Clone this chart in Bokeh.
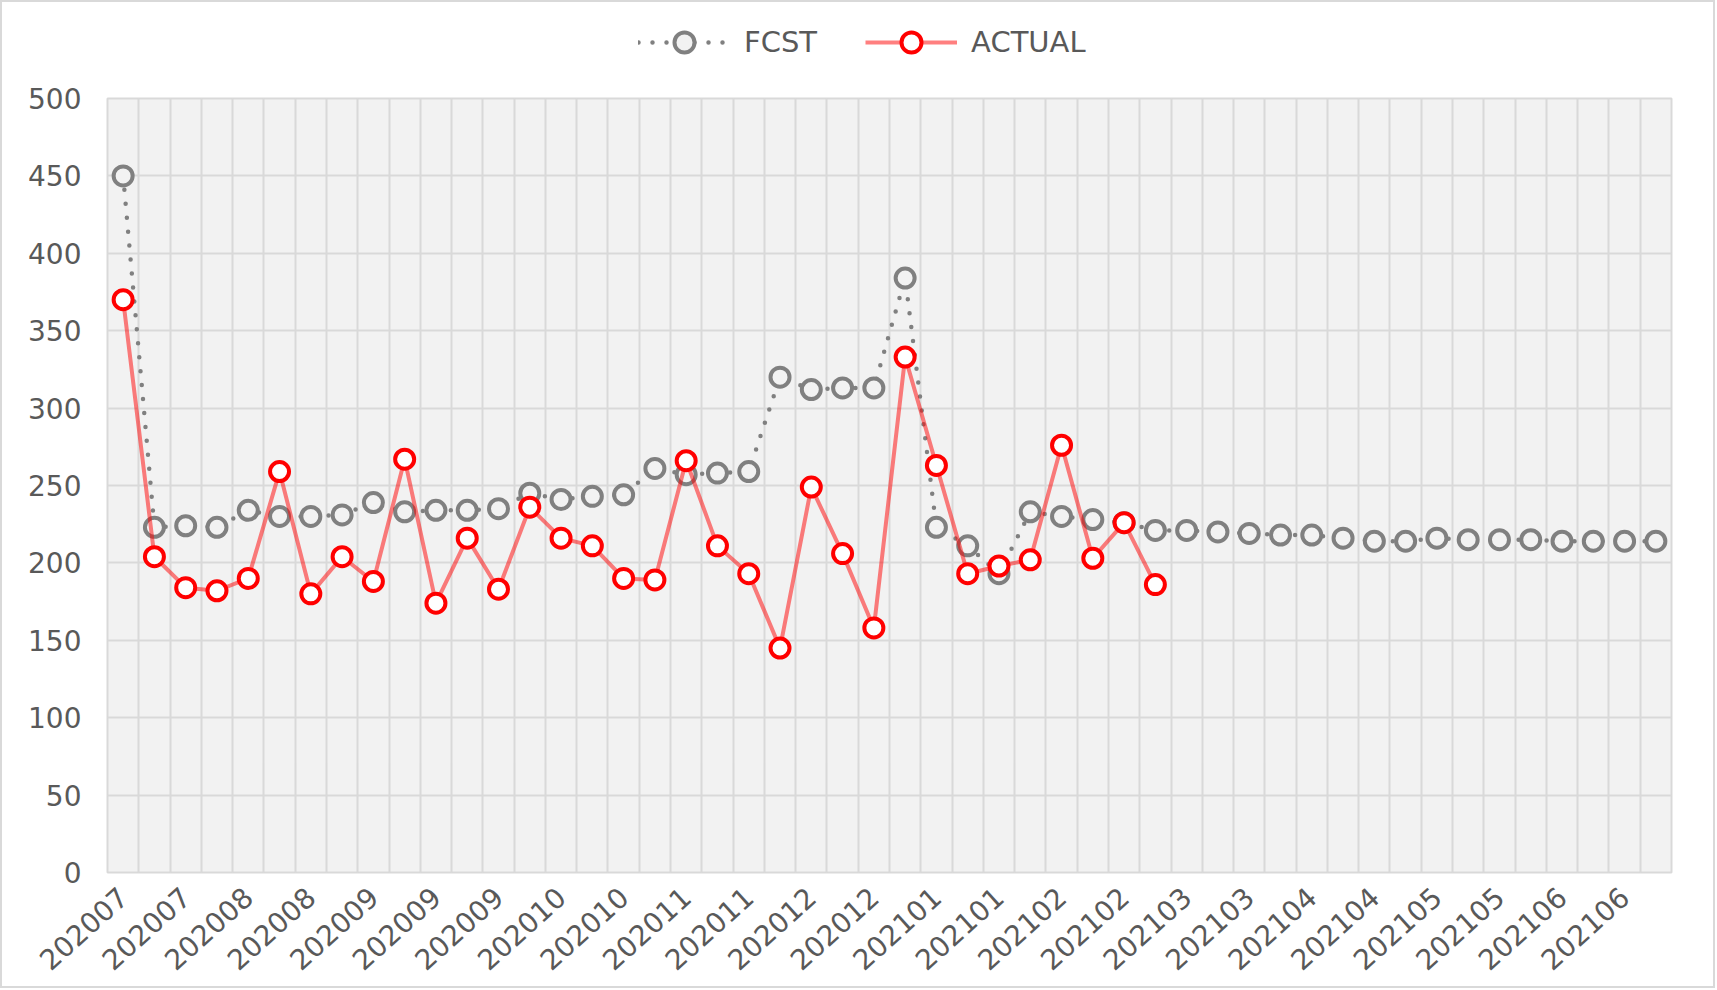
import math
from bokeh.plotting import figure
from bokeh.layouts import column
from bokeh.models import Range1d, FixedTicker, Grid, Legend, LegendItem
from bokeh.embed import file_html
from bokeh.resources import INLINE

# ---- data ----
week_index = list(range(50))
tick_labels = ["202007", "202007", "202008", "202008", "202009", "202009", "202009",
               "202010", "202010", "202011", "202011", "202012", "202012", "202101",
               "202101", "202102", "202102", "202103", "202103", "202104", "202104",
               "202105", "202105", "202106", "202106"]
fcst = [450, 223, 224, 223, 234, 230, 230, 231, 239, 233,
        234, 234, 235, 245, 241, 243, 244, 261, 257, 258,
        259, 320, 312, 313, 313, 384, 223, 211, 193, 233,
        230, 228, 226, 221, 221, 220, 219, 218, 218, 216,
        214, 214, 216, 215, 215, 215, 214, 214, 214, 214]
actual = [370, 204, 184, 182, 190, 259, 180, 204, 188, 267,
          174, 216, 183, 236, 216, 211, 190, 189, 266, 211,
          193, 145, 249, 206, 158, 333, 263, 193, 198, 202,
          276, 203, 226, 186]
y_ticks = [0, 50, 100, 150, 200, 250, 300, 350, 400, 450, 500]

TEXT = "#595959"
GRID = "#D9D9D9"
FONT = "DejaVu Sans"

fcst_line = dict(line_color="#808080", line_width=4.5, line_dash="0 14", line_cap="round")
fcst_mark = dict(marker="circle", size=19, line_color="#808080", line_width=4, fill_color="#F2F2F2")
act_line = dict(line_color="#FF0000", line_alpha=0.5, line_width=4)
act_mark = dict(marker="circle", size=19, line_color="#FF0000", line_width=4, fill_color="white")

# ---- main chart ----
p = figure(width=1711, height=904, output_backend="svg", toolbar_location=None,
           x_range=Range1d(-0.5, len(week_index) - 0.5), y_range=Range1d(0, 500),
           min_border_left=105, min_border_top=16, min_border_right=42, min_border_bottom=114,
           background_fill_color="#F2F2F2", border_fill_color="white")
p.outline_line_color = GRID
p.outline_line_width = 2

p.xgrid.visible = False
p.ygrid.ticker = FixedTicker(ticks=y_ticks)
p.ygrid.grid_line_color = GRID
p.ygrid.grid_line_width = 2
bounds = [i - 0.5 for i in range(len(week_index) + 1)]
vgrid = Grid(dimension=0, ticker=FixedTicker(ticks=bounds), grid_line_color=GRID, grid_line_width=2)
p.add_layout(vgrid)

label_ticks = week_index[::2]
p.xaxis.ticker = FixedTicker(ticks=label_ticks)
p.xaxis.major_label_overrides = {t: lab for t, lab in zip(label_ticks, tick_labels)}
p.xaxis.major_label_orientation = math.radians(42)
p.yaxis.ticker = FixedTicker(ticks=y_ticks)
for ax in (p.xaxis, p.yaxis):
    ax.axis_line_color = None
    ax.major_tick_line_color = None
    ax.minor_tick_line_color = None
    ax.major_label_text_color = TEXT
    ax.major_label_text_font = FONT
p.yaxis.major_label_text_font_size = "28px"
p.xaxis.major_label_text_font_size = "28px"
p.xaxis.major_label_standoff = 14
p.yaxis.major_label_standoff = 20

xa = week_index[:len(actual)]
p.line(week_index, fcst, **fcst_line)
p.scatter(week_index, fcst, **fcst_mark)
p.line(xa, actual, **act_line)
p.scatter(xa, actual, **act_mark)

# ---- legend strip on top (proxy renderers sit outside its visible range) ----
lg = figure(width=1711, height=80, output_backend="svg", toolbar_location=None,
            x_axis_type=None, y_axis_type=None, min_border=0,
            x_range=Range1d(1, 2), y_range=Range1d(1, 2),
            border_fill_color="white", background_fill_color="white")
lg.outline_line_color = None
lg.grid.visible = False
fl = lg.line([0], [0], **fcst_line)
fs = lg.scatter([0], [0], **fcst_mark)
al = lg.line([0], [0], **act_line)
asc = lg.scatter([0], [0], **act_mark)
legend = Legend(items=[LegendItem(label="FCST", renderers=[fl, fs]),
                       LegendItem(label="ACTUAL", renderers=[al, asc])],
                location=(531, 15), orientation="horizontal",
                label_text_font=FONT, label_text_font_size="29px", label_text_color=TEXT,
                glyph_width=92, glyph_height=50, label_height=30, label_standoff=14, spacing=48,
                padding=0, border_line_color=None, background_fill_alpha=0)
lg.add_layout(legend)

layout = column(lg, p, spacing=0)
layout.styles = {"border": "2px solid #D9D9D9"}

open("out.html", "w").write(file_html(layout, INLINE))
